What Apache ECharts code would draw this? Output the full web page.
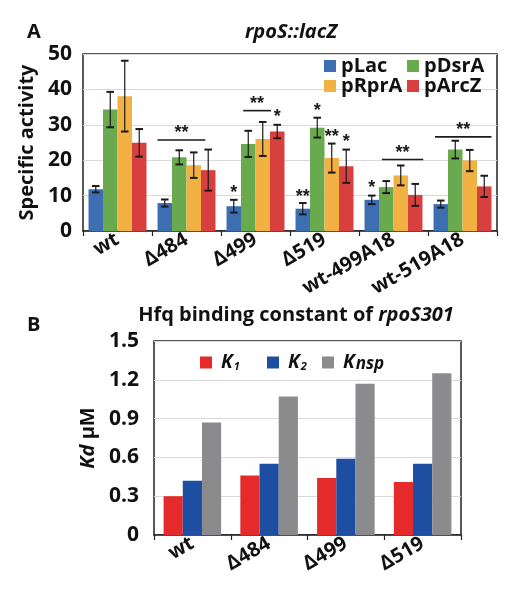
<!DOCTYPE html>
<html>
<head>
<meta charset="utf-8">
<script src="https://cdn.jsdelivr.net/npm/echarts@6/dist/echarts.min.js"></script>
<style>html,body{margin:0;padding:0;background:#fff}#c{width:515px;height:600px}</style>
</head>
<body>
<div id="c"></div>
<script>
// ---- Panel A data ----
const strainsA = ['wt', 'Δ484', 'Δ499', 'Δ519', 'wt-499A18', 'wt-519A18'];
const pLac   = [11.8, 7.9, 7.0, 6.3, 8.8, 7.6];
const pDsrA  = [34.3, 20.8, 24.6, 29.2, 12.4, 23.0];
const pRprA  = [38.1, 18.6, 26.0, 20.6, 15.7, 19.9];
const pArcZ  = [24.9, 17.2, 28.1, 18.3, 10.2, 12.6];
const pLacErr  = [0.9, 1.0, 1.8, 1.6, 1.2, 1.0];
const pDsrAErr = [5.0, 2.0, 3.7, 2.8, 1.7, 2.5];
const pRprAErr = [10.0, 3.6, 4.8, 4.1, 2.8, 3.0];
const pArcZErr = [3.9, 5.8, 1.9, 4.7, 3.1, 3.0];
const yTicksA = [0, 10, 20, 30, 40, 50];
// significance bracket lines: category, y, from bar, to bar (bar units in group)
const sigCat  = [1, 2, 4, 5];
const sigY    = [25.7, 34.0, 20.2, 26.6];
const sigFrom = [0, 1.15, 1.2, 0.1];
const sigTo   = [3.3, 3.07, 4.05, 4.0];
const sigTextY = [27.6, 35.9, 22.1, 28.5];
// single asterisks on bars: category, bar index, y, text
const starCat = [2, 2, 3, 3, 3, 3, 4];
const starBar = [0, 3, 0, 1, 2, 3, 0];
const starY   = [10.8, 32.1, 9.7, 34.0, 26.6, 25.1, 12.2];
const starTxt = ['*', '*', '**', '*', '**', '*', '*'];

// ---- Panel B data ----
const strainsB = ['wt', 'Δ484', 'Δ499', 'Δ519'];
const K1   = [0.30, 0.46, 0.44, 0.41];
const K2   = [0.42, 0.55, 0.59, 0.55];
const Knsp = [0.87, 1.07, 1.17, 1.25];
const yTicksB = [0, 0.3, 0.6, 0.9, 1.2, 1.5];

const FONT = '"Open Sans"';
const colA = ['#3d6eb2', '#6aaa4e', '#f2b143', '#d8403f'];
const colB = ['#e42a2a', '#1e4ea2', '#8b8b8d'];
const GAP_A = 0.16, GAP_B = 0.25;

const namesA = ['pLac', 'pDsrA', 'pRprA', 'pArcZ'];
const valsA = [pLac, pDsrA, pRprA, pArcZ];
const errsA = [pLacErr, pDsrAErr, pRprAErr, pArcZErr];

const errData = [];
valsA.forEach((arr, s) => arr.forEach((v, c) => errData.push([c, v, errsA[s][c], s])));
const sigData = sigCat.map((c, i) => [c, sigY[i], sigFrom[i], sigTo[i], sigTextY[i]]);
const starData = starCat.map((c, i) => [c, starY[i], starBar[i], i]);

function groupGeom(api, c, gap) {
  const band = api.size([1, 0])[0];
  const gw = band * (1 - gap);
  const left = api.coord([c, 0])[0] - gw / 2;
  return { left: left, bw: gw / 4 };
}
const INK = '#1a1a1a';
const STAR_FONT = 'bold 18px "Liberation Sans"';
function renderErr(params, api) {
  const c = api.value(0), v = api.value(1), e = api.value(2), s = api.value(3);
  const g = groupGeom(api, c, GAP_A);
  const cx = g.left + g.bw * (s + 0.5);
  const yt = api.coord([c, v + e])[1], yb = api.coord([c, v - e])[1];
  const cap = 3.8;
  return { type: 'group', children: [
    { type: 'line', shape: { x1: cx, y1: yt, x2: cx, y2: yb }, style: { stroke: INK, lineWidth: 1.2 } },
    { type: 'line', shape: { x1: cx - cap, y1: yt, x2: cx + cap, y2: yt }, style: { stroke: INK, lineWidth: 2 } },
    { type: 'line', shape: { x1: cx - cap, y1: yb, x2: cx + cap, y2: yb }, style: { stroke: INK, lineWidth: 2 } }
  ]};
}
function renderSig(params, api) {
  const c = api.value(0), y = api.value(1), f = api.value(2), t = api.value(3), ty = api.value(4);
  const g = groupGeom(api, c, GAP_A);
  const x1 = g.left + g.bw * f, x2 = g.left + g.bw * t;
  const py = api.coord([c, y])[1];
  const pty = api.coord([c, ty])[1];
  return { type: 'group', children: [
    { type: 'line', shape: { x1: x1, y1: py, x2: x2, y2: py }, style: { stroke: INK, lineWidth: 1.6 } },
    { type: 'text', x: (x1 + x2) / 2, y: pty, style: { text: '**', font: STAR_FONT, fill: INK, align: 'center', verticalAlign: 'middle' } }
  ]};
}
function renderStar(params, api) {
  const c = api.value(0), y = api.value(1), b = api.value(2), i = api.value(3);
  const g = groupGeom(api, c, GAP_A);
  const cx = g.left + g.bw * (b + 0.5);
  const py = api.coord([c, y])[1];
  return { type: 'text', x: cx, y: py, style: { text: starTxt[i], font: STAR_FONT, fill: INK, align: 'center', verticalAlign: 'middle' } };
}

const chart = echarts.init(document.getElementById('c'), null, { renderer: 'canvas' });
const tickStyle = { fontFamily: FONT, fontWeight: 'bold', fontSize: 21, color: '#111' };
const catStyle = { fontFamily: FONT, fontWeight: 'bold', fontSize: 20, color: '#111' };
const kRich = {
  k: { fontFamily: FONT, fontWeight: 'bold', fontStyle: 'italic', fontSize: 19, color: '#111', padding: [0, 1, 0, 4] },
  s: { fontFamily: FONT, fontWeight: 'bold', fontStyle: 'italic', fontSize: 11, color: '#111', padding: [9, 0, 0, 0] },
  n: { fontFamily: FONT, fontWeight: 'bold', fontStyle: 'italic', fontSize: 17, color: '#111', padding: [3, 0, 0, 0] }
};

const option = {
  animation: false,
  backgroundColor: '#fff',
  title: [
    { text: 'A', left: 27, top: 20, padding: 0, textStyle: { fontFamily: FONT, fontWeight: 'bold', fontSize: 20, lineHeight: 24, color: '#111' } },
    { text: 'rpoS::lacZ', left: 291, top: 20, padding: 0, textAlign: 'center',
      textStyle: { fontFamily: FONT, fontWeight: 'bold', fontStyle: 'italic', fontSize: 20, lineHeight: 24, color: '#111' } },
    { text: 'B', left: 27, top: 313, padding: 0, textStyle: { fontFamily: FONT, fontWeight: 'bold', fontSize: 20, lineHeight: 24, color: '#111' } },
    { text: 'Hfq binding constant of {i|rpoS301}', left: 296, top: 303, padding: 0, textAlign: 'center',
      textStyle: { fontFamily: FONT, fontWeight: 'bold', fontSize: 20, lineHeight: 24, color: '#111',
        rich: { i: { fontFamily: FONT, fontWeight: 'bold', fontStyle: 'italic', fontSize: 20, lineHeight: 24, color: '#111' } } } }
  ],
  legend: [
    { data: ['pLac', 'pRprA'], orient: 'vertical', left: 324, top: 56, padding: 0, itemGap: 0,
      itemWidth: 12, itemHeight: 12, icon: 'rect',
      textStyle: { fontFamily: FONT, fontWeight: 'bold', fontSize: 20, color: '#111', lineHeight: 17 } },
    { data: ['pDsrA', 'pArcZ'], orient: 'vertical', left: 407, top: 56, padding: 0, itemGap: 0,
      itemWidth: 12, itemHeight: 12, icon: 'rect',
      textStyle: { fontFamily: FONT, fontWeight: 'bold', fontSize: 20, color: '#111', lineHeight: 17 } },
    { data: ['K1'], left: 200, top: 353, padding: 0, itemWidth: 12, itemHeight: 12, icon: 'rect',
      formatter: () => '{k|K}{s|1}', textStyle: { rich: kRich } },
    { data: ['K2'], left: 267, top: 353, padding: 0, itemWidth: 12, itemHeight: 12, icon: 'rect',
      formatter: () => '{k|K}{s|2}', textStyle: { rich: kRich } },
    { data: ['Knsp'], left: 322, top: 353, padding: 0, itemWidth: 12, itemHeight: 12, icon: 'rect',
      formatter: () => '{k|K}{n|nsp}', textStyle: { rich: kRich } }
  ],
  grid: [
    { left: 83, right: 18, top: 54, height: 177, show: true, borderColor: '#222', borderWidth: 1.5, backgroundColor: 'transparent' },
    { left: 154, right: 54, top: 341, height: 194, show: true, borderColor: '#222', borderWidth: 1.5, backgroundColor: 'transparent' }
  ],
  xAxis: [
    { type: 'category', gridIndex: 0, data: strainsA,
      axisLine: { lineStyle: { color: '#222', width: 1.5 } },
      axisTick: { show: true, length: 5, lineStyle: { color: '#222', width: 1.2 } },
      axisLabel: Object.assign({ interval: 0, rotate: 30, margin: 7 }, catStyle) },
    { type: 'category', gridIndex: 1, data: strainsB,
      axisLine: { lineStyle: { color: '#222', width: 1.5 } },
      axisTick: { show: true, length: 5, lineStyle: { color: '#222', width: 1.2 } },
      axisLabel: Object.assign({ interval: 0, rotate: 30, margin: 7 }, catStyle) }
  ],
  yAxis: [
    { type: 'value', gridIndex: 0, min: yTicksA[0], max: yTicksA[yTicksA.length - 1], interval: yTicksA[1] - yTicksA[0],
      name: 'Specific activity', nameLocation: 'middle', nameGap: 45, nameRotate: 90,
      nameTextStyle: { fontFamily: FONT, fontWeight: 'bold', fontSize: 20, color: '#111' },
      axisLine: { show: false }, axisTick: { show: false },
      axisLabel: Object.assign({ margin: 11 }, tickStyle),
      splitLine: { lineStyle: { color: '#d9d9d9', width: 1 } } },
    { type: 'value', gridIndex: 1, min: yTicksB[0], max: yTicksB[yTicksB.length - 1], interval: 0.3,
      name: '{i|Kd} μM', nameLocation: 'middle', nameGap: 56, nameRotate: 90,
      nameTextStyle: { fontFamily: FONT, fontWeight: 'bold', fontSize: 20, color: '#111',
        rich: { i: { fontFamily: FONT, fontWeight: 'bold', fontStyle: 'italic', fontSize: 20, color: '#111' } } },
      axisLine: { show: false }, axisTick: { show: false },
      axisLabel: Object.assign({ margin: 15, formatter: v => String(Math.round(v * 10) / 10) }, tickStyle),
      splitLine: { lineStyle: { color: '#d9d9d9', width: 1 } } }
  ],
  series: [
    ...namesA.map((n, s) => ({
      name: n, type: 'bar', xAxisIndex: 0, yAxisIndex: 0, data: valsA[s],
      barGap: '0%', barCategoryGap: (GAP_A * 100) + '%', itemStyle: { color: colA[s] }
    })),
    { name: 'K1', type: 'bar', xAxisIndex: 1, yAxisIndex: 1, data: K1, barGap: '0%', barCategoryGap: (GAP_B * 100) + '%', itemStyle: { color: colB[0] } },
    { name: 'K2', type: 'bar', xAxisIndex: 1, yAxisIndex: 1, data: K2, barGap: '0%', barCategoryGap: (GAP_B * 100) + '%', itemStyle: { color: colB[1] } },
    { name: 'Knsp', type: 'bar', xAxisIndex: 1, yAxisIndex: 1, data: Knsp, barGap: '0%', barCategoryGap: (GAP_B * 100) + '%', itemStyle: { color: colB[2] } },
    { type: 'custom', name: 'err', xAxisIndex: 0, yAxisIndex: 0, data: errData, renderItem: renderErr, encode: { x: 0, y: 1 }, z: 5, silent: true },
    { type: 'custom', name: 'sig', xAxisIndex: 0, yAxisIndex: 0, data: sigData, renderItem: renderSig, encode: { x: 0, y: 1 }, z: 5, silent: true },
    { type: 'custom', name: 'star', xAxisIndex: 0, yAxisIndex: 0, data: starData, renderItem: renderStar, encode: { x: 0, y: 1 }, z: 5, silent: true }
  ]
};
chart.setOption(option);
</script>
</body>
</html>
